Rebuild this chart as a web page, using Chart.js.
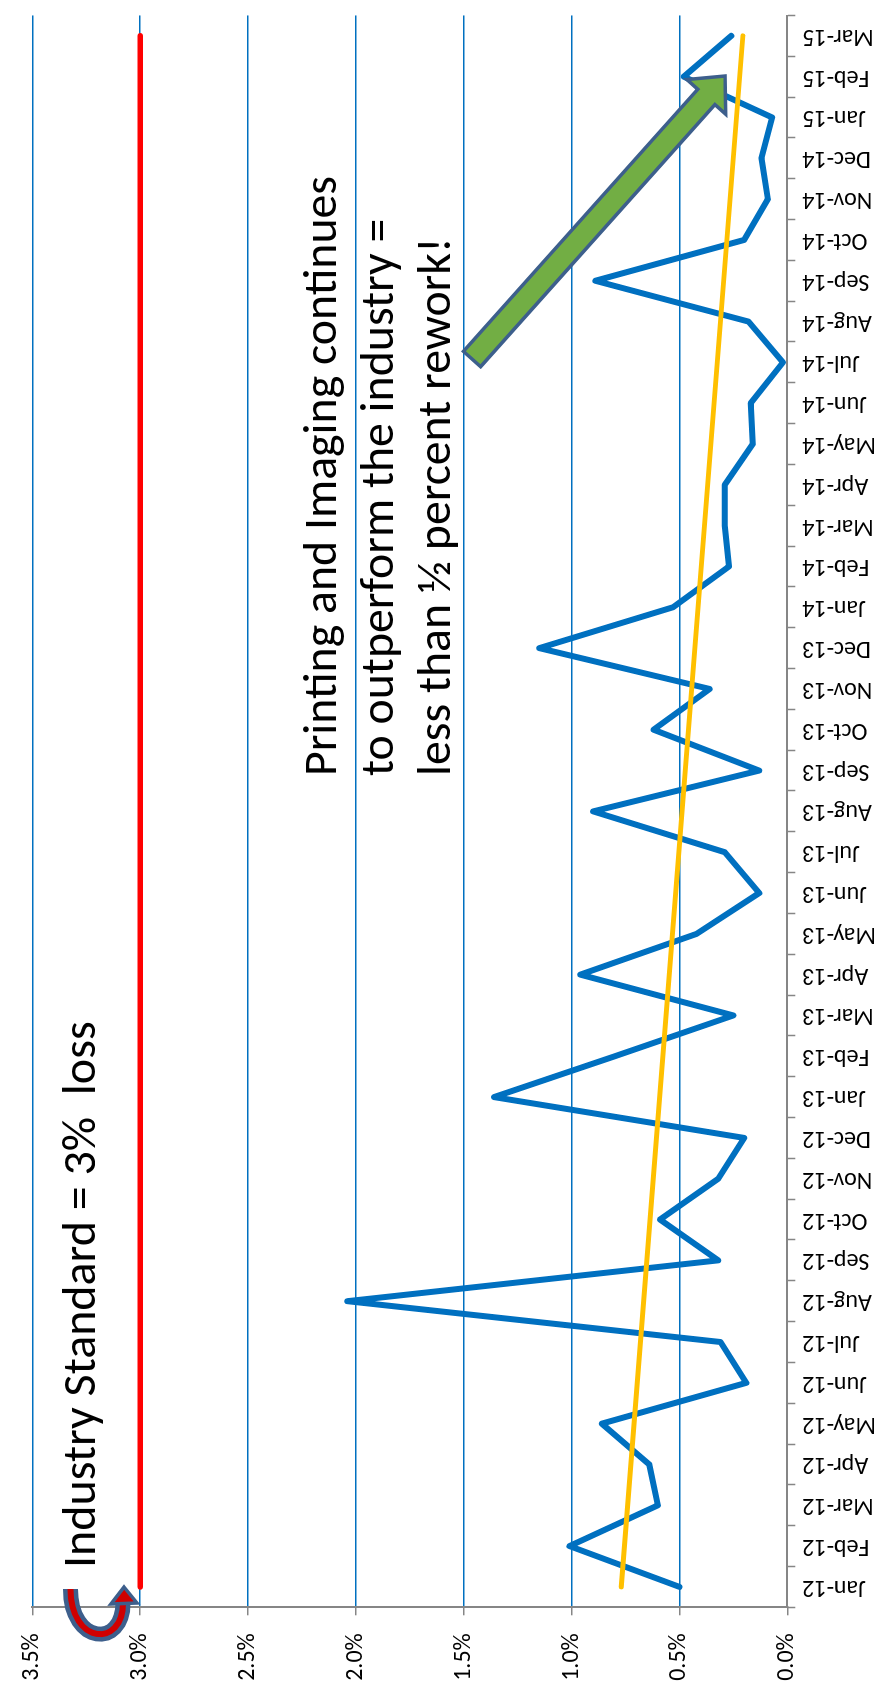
<!DOCTYPE html>
<html>
<head>
<meta charset="utf-8">
<title>Printing and Imaging rework</title>
<script src="https://cdn.jsdelivr.net/npm/chart.js@4.4.1/dist/chart.umd.min.js"></script>
<style>
  html, body { margin: 0; padding: 0; background: #ffffff; }
  #page { position: relative; width: 886px; height: 1692px; overflow: hidden; background: #ffffff; }
  /* the chart is laid out landscape and turned a quarter turn counter-clockwise */
  #chart { position: absolute; left: 0; top: 0; width: 1692px; height: 886px;
           transform-origin: 0 0; transform: translate(0px, 1692px) rotate(-90deg); }
</style>
</head>
<body>
<div id="page"><canvas id="chart" width="1692" height="886"></canvas></div>
<script>
// ---- data ----
const months = [
  'Jan-12','Feb-12','Mar-12','Apr-12','May-12','Jun-12','Jul-12','Aug-12','Sep-12','Oct-12','Nov-12','Dec-12',
  'Jan-13','Feb-13','Mar-13','Apr-13','May-13','Jun-13','Jul-13','Aug-13','Sep-13','Oct-13','Nov-13','Dec-13',
  'Jan-14','Feb-14','Mar-14','Apr-14','May-14','Jun-14','Jul-14','Aug-14','Sep-14','Oct-14','Nov-14','Dec-14',
  'Jan-15','Feb-15','Mar-15'
];
// monthly rework, percent
const reworkPct = [
  0.50, 1.01, 0.60, 0.64, 0.86, 0.19, 0.31, 2.04, 0.32, 0.59, 0.32, 0.20,
  1.36, 0.80, 0.25, 0.96, 0.42, 0.13, 0.29, 0.90, 0.13, 0.62, 0.36, 1.15,
  0.53, 0.27, 0.29, 0.29, 0.16, 0.17, 0.02, 0.18, 0.89, 0.20, 0.09, 0.12,
  0.07, 0.48, 0.26
];
// industry standard loss, percent
const industryStandardPct = 3.0;
// linear trend of the rework series at the first and last month, percent
const trendEndsPct = [0.77, 0.206];
// value axis ticks, percent
const valueTicks = [0, 0.5, 1.0, 1.5, 2.0, 2.5, 3.0, 3.5];

const noteIndustry = 'Industry Standard = 3%  loss';
const noteLines = [
  'Printing and Imaging continues',
  'to outperform the industry =',
  'less than \u00BD percent rework!'
];

const FONT = 'Carlito, Lato, "Open Sans", sans-serif';
const GRID_BLUE = '#0070C0';
const AXIS_GREY = '#868686';

// ---- helpers for the call-out shapes (drawn in page orientation) ----
function blockArrow(ctx, x0, y0, x1, y1, shaftW, headW, headL) {
  const L = Math.hypot(x1 - x0, y1 - y0);
  const ux = (x1 - x0) / L, uy = (y1 - y0) / L;
  const nx = -uy, ny = ux;
  const bx = x1 - ux * headL, by = y1 - uy * headL;
  const p = [
    [x0 + nx * shaftW / 2, y0 + ny * shaftW / 2],
    [bx + nx * shaftW / 2, by + ny * shaftW / 2],
    [bx + nx * headW / 2, by + ny * headW / 2],
    [x1, y1],
    [bx - nx * headW / 2, by - ny * headW / 2],
    [bx - nx * shaftW / 2, by - ny * shaftW / 2],
    [x0 - nx * shaftW / 2, y0 - ny * shaftW / 2]
  ];
  ctx.beginPath();
  ctx.moveTo(p[0][0], p[0][1]);
  for (let i = 1; i < p.length; i++) ctx.lineTo(p[i][0], p[i][1]);
  ctx.closePath();
  ctx.fillStyle = '#72AE44';
  ctx.fill();
  ctx.lineJoin = 'miter';
  ctx.lineWidth = 3.5;
  ctx.strokeStyle = '#3D5F8C';
  ctx.stroke();
}

function uTurnArrow(ctx) {
  const path = () => {
    ctx.beginPath();
    ctx.moveTo(70.5, 1589);
    ctx.bezierCurveTo(70.5, 1645, 123, 1648, 123, 1603);
  };
  ctx.lineCap = 'butt';
  path(); ctx.lineWidth = 15; ctx.strokeStyle = '#3D5F8C'; ctx.stroke();
  path(); ctx.lineWidth = 6; ctx.strokeStyle = '#D00000'; ctx.stroke();
  ctx.beginPath();
  ctx.moveTo(124, 1587);
  ctx.lineTo(137, 1603);
  ctx.lineTo(111, 1604);
  ctx.closePath();
  ctx.fillStyle = '#D00000';
  ctx.fill();
  ctx.lineJoin = 'miter';
  ctx.lineWidth = 3.5;
  ctx.strokeStyle = '#3D5F8C';
  ctx.stroke();
}

// ---- call-outs plugin ----
const callouts = {
  id: 'callouts',
  afterDraw(chart) {
    const ctx = chart.ctx;
    const W = chart.width;

    // text runs along the landscape canvas, so it reads upward on the page
    ctx.save();
    ctx.fillStyle = '#000000';
    ctx.textAlign = 'left';
    ctx.textBaseline = 'alphabetic';
    ctx.font = '48px ' + FONT;
    ctx.fillText(noteIndustry, 124, 95);

    ctx.font = '100px ' + FONT;
    const size = 100 * 557 / ctx.measureText(noteLines[1]).width;
    ctx.font = size.toFixed(1) + 'px ' + FONT;
    const baselines = [336, 393, 450];
    noteLines.forEach((t, i) => ctx.fillText(t, 916, baselines[i]));
    ctx.restore();

    // shapes in page coordinates: page (x, y) -> canvas (W - y, x)
    ctx.save();
    ctx.transform(0, 1, -1, 0, W, 0);
    blockArrow(ctx, 472, 359, 725, 76, 23, 52, 28);
    uTurnArrow(ctx);
    ctx.restore();
  }
};

function build() {
  const last = months.length - 1;
  new Chart(document.getElementById('chart'), {
    type: 'line',
    data: {
      labels: months,
      datasets: [
        {
          label: 'Trend',
          data: months.map((m, i) => i === 0 ? trendEndsPct[0] : (i === last ? trendEndsPct[1] : null)),
          spanGaps: true,
          borderColor: '#FFC000',
          borderWidth: 5,
          borderCapStyle: 'round',
          pointRadius: 0,
          order: 1
        },
        {
          label: 'Rework',
          data: reworkPct,
          borderColor: '#0070C0',
          borderWidth: 6,
          borderJoinStyle: 'round',
          borderCapStyle: 'round',
          tension: 0,
          pointRadius: 0,
          order: 2
        },
        {
          label: 'Industry Standard',
          data: months.map(() => industryStandardPct),
          borderColor: '#FF0000',
          borderWidth: 5.5,
          borderCapStyle: 'round',
          pointRadius: 0,
          order: 3
        }
      ]
    },
    options: {
      responsive: false,
      animation: false,
      devicePixelRatio: 1,
      layout: { padding: { top: 22, right: 4, left: 0, bottom: 0 } },
      plugins: { legend: { display: false }, tooltip: { enabled: false } },
      scales: {
        x: {
          type: 'category',
          offset: true,
          grid: {
            display: true, drawOnChartArea: false, drawTicks: true, offset: true,
            tickLength: 8, tickColor: AXIS_GREY, tickWidth: 1.5
          },
          border: { display: true, color: AXIS_GREY, width: 2 },
          ticks: {
            autoSkip: false, minRotation: 90, maxRotation: 90, padding: 7,
            color: '#000000', font: { family: FONT, size: 24 }
          },
          afterFit(scale) { scale.height = 98.7; }
        },
        y: {
          min: valueTicks[0],
          max: valueTicks[valueTicks.length - 1],
          afterBuildTicks(scale) { scale.ticks = valueTicks.map(v => ({ value: v })); },
          ticks: {
            callback: v => v.toFixed(1) + '%',
            padding: 18,
            color: '#000000',
            font: { family: FONT, size: 24 }
          },
          grid: {
            color: c => (c.tick && c.tick.value === 0) ? 'rgba(0,0,0,0)' : GRID_BLUE,
            lineWidth: 1.5,
            tickLength: 8, tickColor: AXIS_GREY, tickWidth: 1.5
          },
          border: { display: true, color: AXIS_GREY, width: 2 },
          afterFit(scale) { scale.width = 84.7; }
        }
      }
    },
    plugins: [callouts]
  });
}

if (document.fonts && document.fonts.load) {
  document.fonts.load('24px Carlito').then(build, build);
} else {
  build();
}
</script>
</body>
</html>
